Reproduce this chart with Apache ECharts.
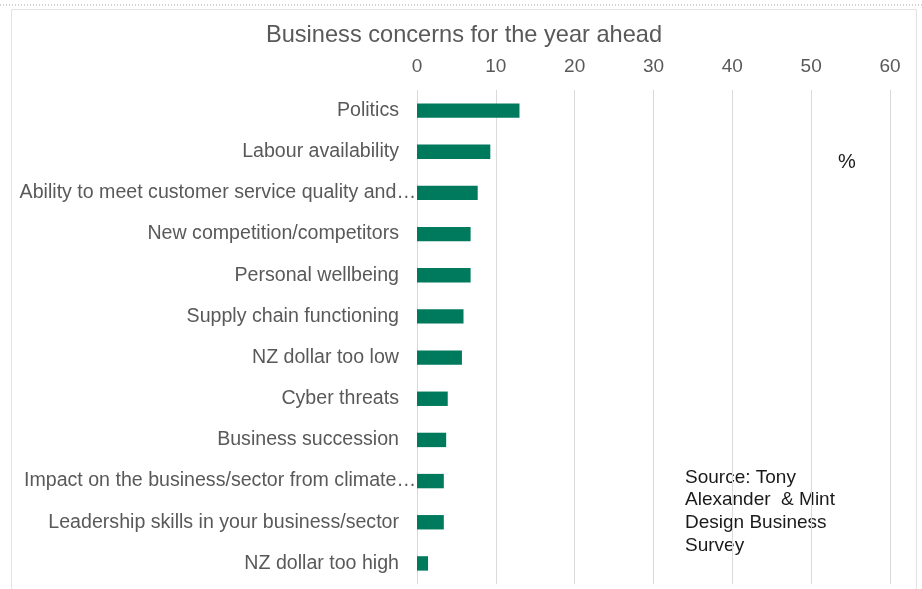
<!DOCTYPE html>
<html>
<head>
<meta charset="utf-8">
<title>Business concerns for the year ahead</title>
<script src="https://cdn.jsdelivr.net/npm/echarts@6/dist/echarts.min.js"></script>
<style>
  html, body { margin: 0; padding: 0; background: #ffffff; }
  #chart { width: 922px; height: 589px; }
</style>
</head>
<body>
<div id="chart"></div>
<script>
// Survey concerns, share of respondents (%)
const categories = [
  'Politics',
  'Labour availability',
  'Ability to meet customer service quality and…',
  'New competition/competitors',
  'Personal wellbeing',
  'Supply chain functioning',
  'NZ dollar too low',
  'Cyber threats',
  'Business succession',
  'Impact on the business/sector from climate…',
  'Leadership skills in your business/sector',
  'NZ dollar too high'
];
const shares = [13.0, 9.3, 7.7, 6.8, 6.8, 5.9, 5.7, 3.9, 3.7, 3.4, 3.4, 1.4];
const xTicks = [0, 10, 20, 30, 40, 50, 60];
const sourceLines = ['Source: Tony', 'Alexander  & Mint', 'Design Business', 'Survey'];

const FONT = '"Liberation Sans", Arial, Helvetica, sans-serif';
const GREY_TEXT = '#595959';
const GRID_LINE = '#d9d9d9';
const LABEL_SIZE = 19.6;

const chart = echarts.init(document.getElementById('chart'), null, { renderer: 'canvas' });

chart.setOption({
  backgroundColor: '#ffffff',
  animation: false,
  title: {
    text: 'Business concerns for the year ahead',
    left: 459,
    top: 18,
    textAlign: 'center',
    textStyle: { fontFamily: FONT, fontSize: 23.6, fontWeight: 'normal', color: GREY_TEXT }
  },
  grid: { left: 417, right: 32, top: 90, bottom: 5, containLabel: false },
  xAxis: {
    type: 'value',
    position: 'top',
    min: xTicks[0],
    max: xTicks[xTicks.length - 1],
    interval: xTicks[1] - xTicks[0],
    axisLine: { show: false },
    axisTick: { show: false },
    axisLabel: { fontFamily: FONT, fontSize: 19, color: GREY_TEXT, margin: 14 },
    splitLine: { show: true, lineStyle: { color: GRID_LINE, width: 1 } }
  },
  yAxis: {
    type: 'category',
    data: categories,
    inverse: true,
    axisLine: { show: false },
    axisTick: { show: false },
    axisLabel: {
      margin: 0,
      fontFamily: FONT,
      fontSize: LABEL_SIZE,
      color: GREY_TEXT,
      formatter: v => (v.endsWith('…') ? '{e|' + v + '}' : '{n|' + v + '}'),
      rich: {
        n: { fontFamily: FONT, fontSize: LABEL_SIZE, color: GREY_TEXT, padding: [0, 18, 0, 0] },
        e: { fontFamily: FONT, fontSize: LABEL_SIZE, color: GREY_TEXT, padding: [0, 1, 0, 0] }
      }
    }
  },
  series: [{
    type: 'bar',
    data: shares,
    barWidth: '35%',
    itemStyle: { color: '#007a5c' },
    silent: true
  }],
  graphic: [
    // dotted rule above the frame
    {
      type: 'line',
      shape: { x1: 0, y1: 5, x2: 922, y2: 5 },
      style: { stroke: '#a6a6a6', lineWidth: 1, lineDash: [1, 2] },
      silent: true
    },
    // chart frame
    {
      type: 'rect',
      shape: { x: 11.5, y: 9.5, width: 905, height: 600 },
      style: { fill: 'none', stroke: '#e3e3e3', lineWidth: 1 },
      silent: true
    },
    {
      type: 'text',
      left: 838,
      top: 152,
      style: { text: '%', fontFamily: FONT, fontSize: 20, fill: '#1a1a1a' },
      silent: true
    },
    {
      type: 'text',
      left: 685,
      top: 466,
      style: {
        text: sourceLines.join('\n'),
        fontFamily: FONT,
        fontSize: 19,
        lineHeight: 22.7,
        fill: '#1a1a1a'
      },
      silent: true
    }
  ]
});
</script>
</body>
</html>
